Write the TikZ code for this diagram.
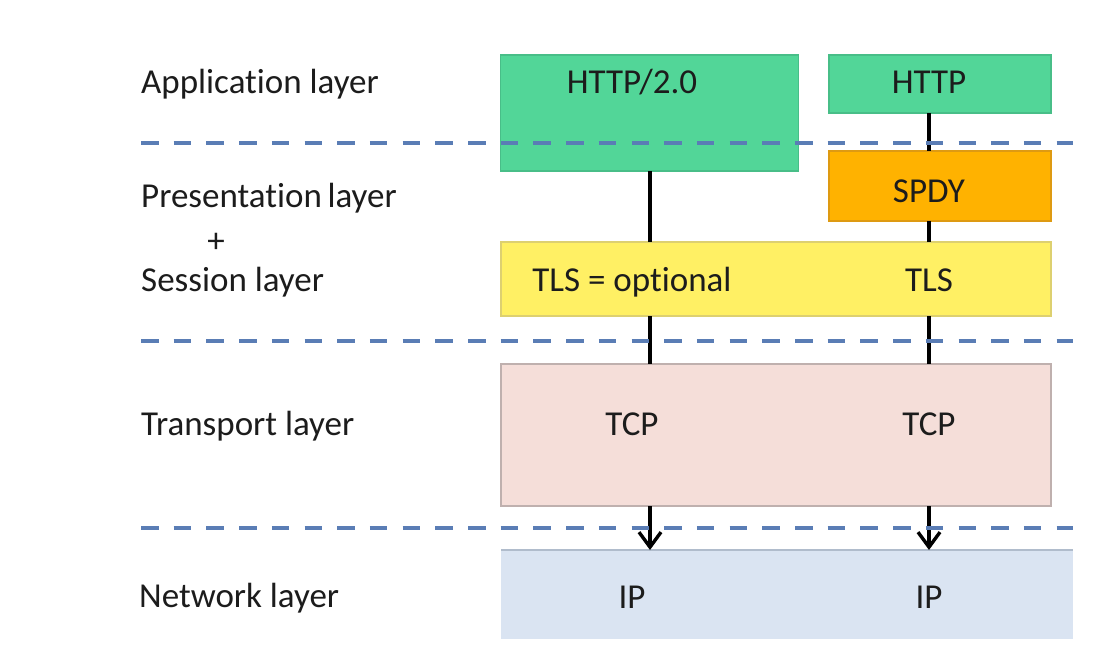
\documentclass[tikz,border=0pt]{standalone}
\usepackage{fontspec}
\setmainfont[Ligatures=NoCommon,RawFeature={-liga}]{Carlito}
\usetikzlibrary{arrows.meta}
\definecolor{appgreen}{HTML}{52D698}
\definecolor{appgreenb}{HTML}{48BE88}
\definecolor{spdyor}{HTML}{FFB200}
\definecolor{spdyorb}{HTML}{DE9A12}
\definecolor{tlsyel}{HTML}{FFF064}
\definecolor{tlsyelb}{HTML}{DDD070}
\definecolor{tcppink}{HTML}{F5DED9}
\definecolor{tcppinkb}{HTML}{BFB0AE}
\definecolor{ipblue}{HTML}{DAE4F2}
\definecolor{ipblueb}{HTML}{B0BCCC}
\definecolor{dashblue}{HTML}{5A7DB5}
\definecolor{txt}{HTML}{1C1C1C}
\tikzset{
  box/.style={draw, line width=1.2pt, inner sep=0pt, outer sep=0pt},
  lbl/.style={font=\fontsize{35}{42}\selectfont, text=txt, inner sep=0pt},
  conn/.style={line width=3.4pt, draw=black},
  arr/.style={conn, -{Straight Barb[length=15pt,width=22pt]}},
  sep/.style={draw=dashblue, line width=3.6pt, dash pattern=on 17.5pt off 15.2pt}
}
\begin{document}
\begin{tikzpicture}[x=1pt,y=-1pt]
\useasboundingbox (0,0) rectangle (1120,662);
\fill[white] (0,0) rectangle (1120,662);

% boxes
\node[box, fill=appgreen, draw=appgreenb, minimum width=298pt, minimum height=116pt] (http2) at (649.5,113) {};
\node[box, fill=appgreen, draw=appgreenb, minimum width=222pt, minimum height=58pt] (http) at (940,84) {};
\node[box, fill=spdyor, draw=spdyorb, minimum width=222pt, minimum height=70pt] (spdy) at (940,186) {};
\node[box, fill=tlsyel, draw=tlsyelb, minimum width=550pt, minimum height=74pt] (tls) at (776,279) {};
\node[box, fill=tcppink, draw=tcppinkb, minimum width=550pt, minimum height=142pt] (tcp) at (776,435) {};
\node[box, fill=ipblue, draw=none, minimum width=572pt, minimum height=89pt] (ip) at (787,594.5) {};
\draw[draw=ipblueb, line width=1.4pt] (ip.north west) -- (ip.north east);

% box texts
\node[lbl, anchor=base] (t-http2) at (632,93) {HTTP/2.0};
\node[lbl, anchor=base] (t-http) at (929,93) {HTTP};
\node[lbl, anchor=base] (t-spdy) at (929,202) {SPDY};
\node[lbl, anchor=base] (t-tlsopt) at (632,291) {TLS = optional};
\node[lbl, anchor=base] (t-tls) at (929,291) {TLS};
\node[lbl, anchor=base] (t-tcp1) at (632,435) {TCP};
\node[lbl, anchor=base] (t-tcp2) at (929,435) {TCP};
\node[lbl, anchor=base] (t-ip1) at (632,608) {IP};
\node[lbl, anchor=base] (t-ip2) at (929,608) {IP};

% layer labels
\node[lbl, anchor=base west] (l-app) at (141,93) {Application layer};
\node[lbl, anchor=base west] (l-pres) at (141,207) {Presentation\hspace{0.16em}layer};
\node[lbl] (l-plus) at (216,243) {+};
\node[lbl, anchor=base west] (l-sess) at (141,291) {Session layer};
\node[lbl, anchor=base west] (l-trans) at (141,435) {Transport layer};
\node[lbl, anchor=base west] (l-net) at (139,607) {Network layer};

% connectors
\coordinate (L) at (650,0);
\coordinate (R) at (929,0);
\draw[conn] (http2.south -| L) -- (tls.north -| L);
\draw[conn] (tls.south -| L) -- (tcp.north -| L);
\draw[arr] (tcp.south -| L) -- (ip.north -| L);
\draw[conn] (http.south -| R) -- (spdy.north -| R);
\draw[conn] (spdy.south -| R) -- (tls.north -| R);
\draw[conn] (tls.south -| R) -- (tcp.north -| R);
\draw[arr] (tcp.south -| R) -- (ip.north -| R);

% dashed layer separators
\coordinate (d1a) at (141,143); \coordinate (d1b) at (1073,143);
\coordinate (d2a) at (141,341); \coordinate (d2b) at (1073,341);
\coordinate (d3a) at (141,528); \coordinate (d3b) at (1073,528);
\draw[sep] (d1a) -- (d1b);
\draw[sep] (d2a) -- (d2b);
\draw[sep] (d3a) -- (d3b);
\end{tikzpicture}
\end{document}
